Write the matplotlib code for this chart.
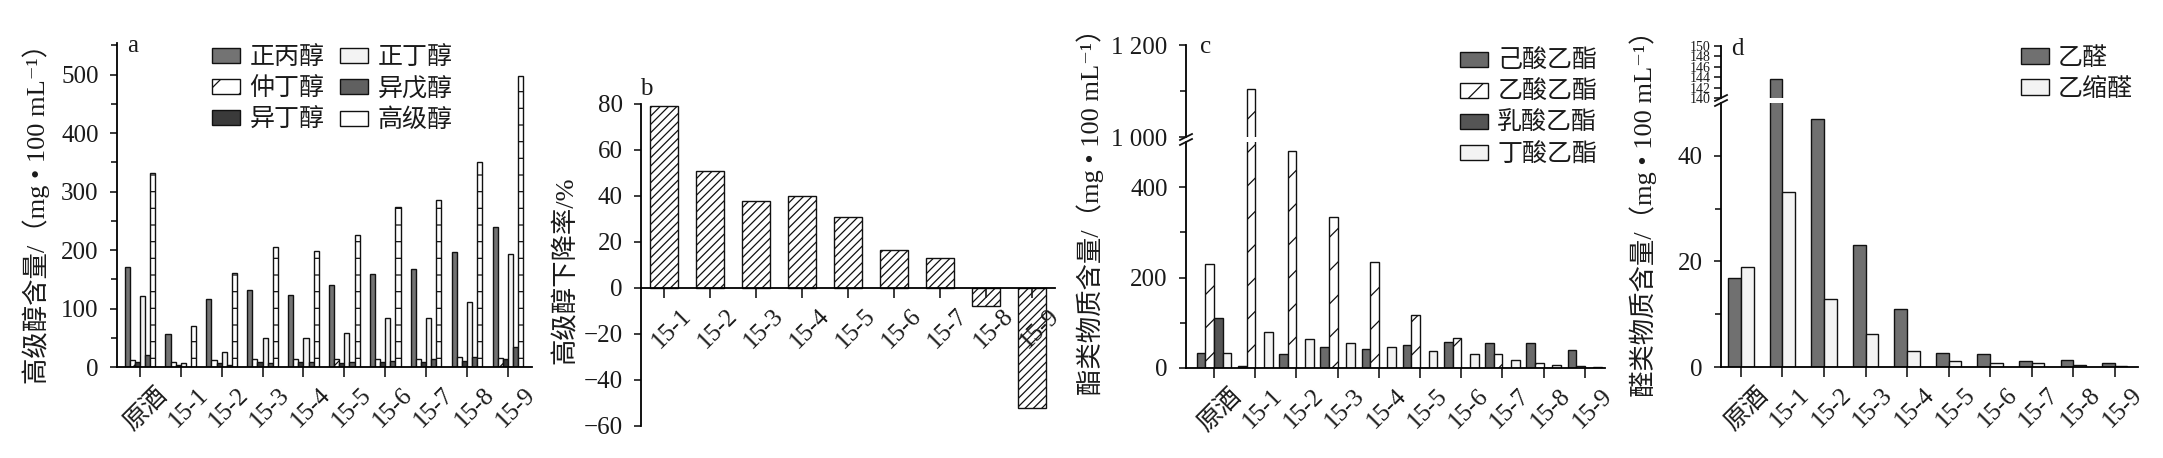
import matplotlib
matplotlib.use('Agg')
import matplotlib.pyplot as plt
import numpy as np
from matplotlib.transforms import ScaledTranslation
from matplotlib.ticker import MultipleLocator, FixedLocator
from matplotlib.lines import Line2D
from matplotlib.patches import Patch

plt.rcParams['font.family'] = ['Liberation Serif', 'Noto Sans CJK SC', 'DejaVu Serif']
plt.rcParams['hatch.linewidth'] = 0.9
plt.rcParams['axes.linewidth'] = 1.3
plt.rcParams['text.color'] = '#1a1a1a'
plt.rcParams['xtick.color'] = '#1a1a1a'
plt.rcParams['ytick.color'] = '#1a1a1a'

# ---------------- data ----------------
cats = ['原酒', '15-1', '15-2', '15-3', '15-4', '15-5', '15-6', '15-7', '15-8', '15-9']
cats_b = ['15-1', '15-2', '15-3', '15-4', '15-5', '15-6', '15-7', '15-8', '15-9']

# panel a: higher alcohols (mg/100 mL)
alc_names = ['正丙醇', '仲丁醇', '异丁醇', '正丁醇', '异戊醇', '高级醇']
n_propanol = [171, 57, 117, 131, 123, 141, 159, 167, 197, 240]
sec_butanol = [12.6, 8, 12.6, 13, 13, 14, 13, 14, 17, 16]
iso_butanol = [9, 4, 7, 8, 8, 7, 9, 9, 10, 13]
n_butanol = [122, 7, 26, 50, 50, 58, 84, 84, 111, 194]
iso_amyl = [21, 0, 4, 7, 8, 9, 11, 13, 17, 34]
higher_alc = [331, 70, 161, 206, 198, 226, 274, 285, 351, 498]

# panel b: decline rate of higher alcohols (%)
decline = [79, 51, 37.7, 39.9, 30.9, 16.5, 12.9, -7.8, -52]

# panel c: esters (mg/100 mL)
ester_names = ['己酸乙酯', '乙酸乙酯', '乳酸乙酯', '丁酸乙酯']
ethyl_hexanoate = [34, 4, 30, 46, 41, 50, 58, 55, 55, 39]
ethyl_acetate = [229, 1105, 480, 334, 234, 118, 66, 30, 11, 4]
ethyl_lactate = [111, 0, 0, 0, 0, 0, 0, 0, 0, 0]
ethyl_butyrate = [33, 79, 65, 56, 46, 38, 30, 18, 7, 2]

# panel d: aldehydes (mg/100 mL)
ald_names = ['乙醛', '乙缩醛']
acetaldehyde = [16.9, 143.7, 47, 23.2, 10.9, 2.6, 2.4, 1.1, 1.3, 0.8]
acetal = [18.9, 33.2, 12.9, 6.2, 3.0, 1.1, 0.8, 0.8, 0.3, 0.1]

# ---------------- figure ----------------
W, H = 2163, 458
fig = plt.figure(figsize=(W / 100, H / 100), dpi=100)

def fx(px):
    return px / W

def fy(py):
    return 1 - py / H

def add_ax(x0, x1, ytop, ybot):
    return fig.add_axes([fx(x0), fy(ybot), (x1 - x0) / W, (ybot - ytop) / H])

FS = 18      # tick labels / legend
FSL = 19     # axis titles
EDGE = '#111111'

def style(ax):
    for s in ['top', 'right']:
        ax.spines[s].set_visible(False)
    ax.tick_params(axis='y', which='major', direction='out', length=5.3, width=1.2, labelsize=FS, pad=8)
    ax.tick_params(axis='y', which='minor', direction='out', length=4, width=1.2)
    ax.tick_params(axis='x', which='major', direction='out', length=7, width=1.2, labelsize=FS, pad=5)

def set_xlabels(ax, x, labels):
    ax.set_xticks(x)
    ax.set_xticklabels(labels, rotation=45, ha='right', va='top', rotation_mode='anchor')
    off = ScaledTranslation(16 / 100, 0, fig.dpi_scale_trans)
    for lab in ax.get_xticklabels():
        lab.set_transform(lab.get_transform() + off)

def grouped(ax, series, styles, total):
    n = len(series)
    w = total / n
    x = np.arange(len(series[0]))
    conts = []
    for i, (vals, st) in enumerate(zip(series, styles)):
        c = ax.bar(x + (i - (n - 1) / 2) * w, vals, width=w, edgecolor=EDGE, linewidth=1.0, **st)
        conts.append(c)
    return conts

LEG = dict(frameon=False, fontsize=FS, handlelength=1.12, handleheight=0.56, handletextpad=0.37,
           columnspacing=0.64, labelspacing=0.32, borderpad=0, borderaxespad=0)

# ---------- panel a ----------
axa = add_ax(117, 532, 43, 367)
style(axa)
sty_a = [dict(facecolor='#737373'),
         dict(facecolor='white', hatch='/'),
         dict(facecolor='#3a3a3a'),
         dict(facecolor='#f3f3f3'),
         dict(facecolor='#606060'),
         dict(facecolor='white', hatch='-')]
ca = grouped(axa, [n_propanol, sec_butanol, iso_butanol, n_butanol, iso_amyl, higher_alc], sty_a, 0.75)
axa.set_xlim(-0.56, 9.59)
axa.set_ylim(0, 554)
axa.yaxis.set_major_locator(FixedLocator([0, 100, 200, 300, 400, 500]))
axa.yaxis.set_minor_locator(MultipleLocator(50))
set_xlabels(axa, np.arange(len(cats)), cats)
handles_a = list(ca[:5]) + [Patch(facecolor='white', edgecolor=EDGE, linewidth=1.0)]
fig.legend(handles_a, alc_names, loc='upper left', bbox_to_anchor=(fx(212), fy(46)), ncol=2, **LEG)
fig.text(fx(36), fy(208), '高级醇含量/（mg • 100 mL⁻¹）', rotation=90, ha='center', va='center', fontsize=FSL)
fig.text(fx(127), fy(52), 'a', fontsize=FS, ha='left', va='baseline')

# ---------- panel b ----------
axb = add_ax(641, 1055, 104, 426)
style(axb)
xb = np.arange(len(cats_b))
axb.bar(xb, decline, width=0.6, facecolor='white', edgecolor=EDGE, hatch='////', linewidth=1.0)
axb.spines['bottom'].set_position(('data', 0))
axb.set_xlim(-0.5, 8.5)
axb.set_ylim(-60, 80)
axb.yaxis.set_major_locator(MultipleLocator(20))
set_xlabels(axb, xb, cats_b)
fig.text(fx(565), fy(270), '高级醇下降率/%', rotation=90, ha='center', va='center', fontsize=FSL)
fig.text(fx(640), fy(95), 'b', fontsize=FS, ha='left', va='baseline')

# ---------- panel c ----------
axc = add_ax(1186, 1605, 142, 368)
axc2 = add_ax(1186, 1605, 45, 137)
sty_c = [dict(facecolor='#6a6a6a'),
         dict(facecolor='white', hatch='/'),
         dict(facecolor='#555555'),
         dict(facecolor='#f3f3f3')]
series_c = [ethyl_hexanoate, ethyl_acetate, ethyl_lactate, ethyl_butyrate]
cc = grouped(axc, series_c, sty_c, 0.84)
grouped(axc2, series_c, [dict(d) for d in sty_c], 0.84)
for ax in (axc, axc2):
    style(ax)
    ax.set_xlim(-0.68, 9.49)
axc.set_ylim(0, 500)
axc.yaxis.set_major_locator(FixedLocator([0, 200, 400]))
axc.yaxis.set_minor_locator(FixedLocator([100, 300]))
set_xlabels(axc, np.arange(len(cats)), cats)
axc2.set_ylim(1000, 1200)
axc2.set_facecolor('none')
axc2.spines['bottom'].set_visible(False)
axc2.set_xticks([])
axc2.yaxis.set_major_locator(FixedLocator([1000, 1200]))
axc2.set_yticklabels(['1 000', '1 200'])
axc2.yaxis.set_minor_locator(FixedLocator([1100]))
fig.legend(cc, ester_names, loc='upper left', bbox_to_anchor=(fx(1460), fy(50)), ncol=1, **LEG)
fig.text(fx(1090), fy(205), '酯类物质含量/（mg • 100 mL⁻¹）', rotation=90, ha='center', va='center', fontsize=FSL)
fig.text(fx(1200), fy(53), 'c', fontsize=FS, ha='left', va='baseline')

# ---------- panel d ----------
axd = add_ax(1721, 2138, 103, 367)
axd2 = add_ax(1721, 2138, 46, 98)
sty_d = [dict(facecolor='#707070'), dict(facecolor='#f3f3f3')]
series_d = [acetaldehyde, acetal]
cd = grouped(axd, series_d, sty_d, 0.61)
grouped(axd2, series_d, [dict(d) for d in sty_d], 0.61)
for ax in (axd, axd2):
    style(ax)
    ax.set_xlim(-0.48, 9.56)
axd.set_ylim(0, 50)
axd.yaxis.set_major_locator(FixedLocator([0, 20, 40]))
axd.yaxis.set_minor_locator(FixedLocator([10, 30]))
set_xlabels(axd, np.arange(len(cats)), cats)
axd2.set_ylim(140, 150)
axd2.set_facecolor('none')
axd2.spines['bottom'].set_visible(False)
axd2.set_xticks([])
axd2.yaxis.set_major_locator(MultipleLocator(2))
axd2.tick_params(axis='y', labelsize=10, pad=2)
fig.legend(cd, ald_names, loc='upper left', bbox_to_anchor=(fx(2021), fy(47)), ncol=1,
           **dict(LEG, handlelength=1.1, handleheight=0.6))
fig.text(fx(1643), fy(207), '醛类物质含量/（mg • 100 mL⁻¹）', rotation=90, ha='center', va='center', fontsize=FSL)
fig.text(fx(1731), fy(55), 'd', fontsize=FS, ha='left', va='baseline')

# break marks on the y spines
def break_marks(xpix, ylow, yhigh):
    for yy in (ylow, yhigh):
        fig.add_artist(Line2D([fx(xpix - 6), fx(xpix + 6)], [fy(yy + 3), fy(yy - 3)],
                              color=EDGE, linewidth=1.3, transform=fig.transFigure))

break_marks(1186, 137, 142)
break_marks(1721, 98, 103)

fig.savefig('out.png', dpi=100, facecolor='white')
